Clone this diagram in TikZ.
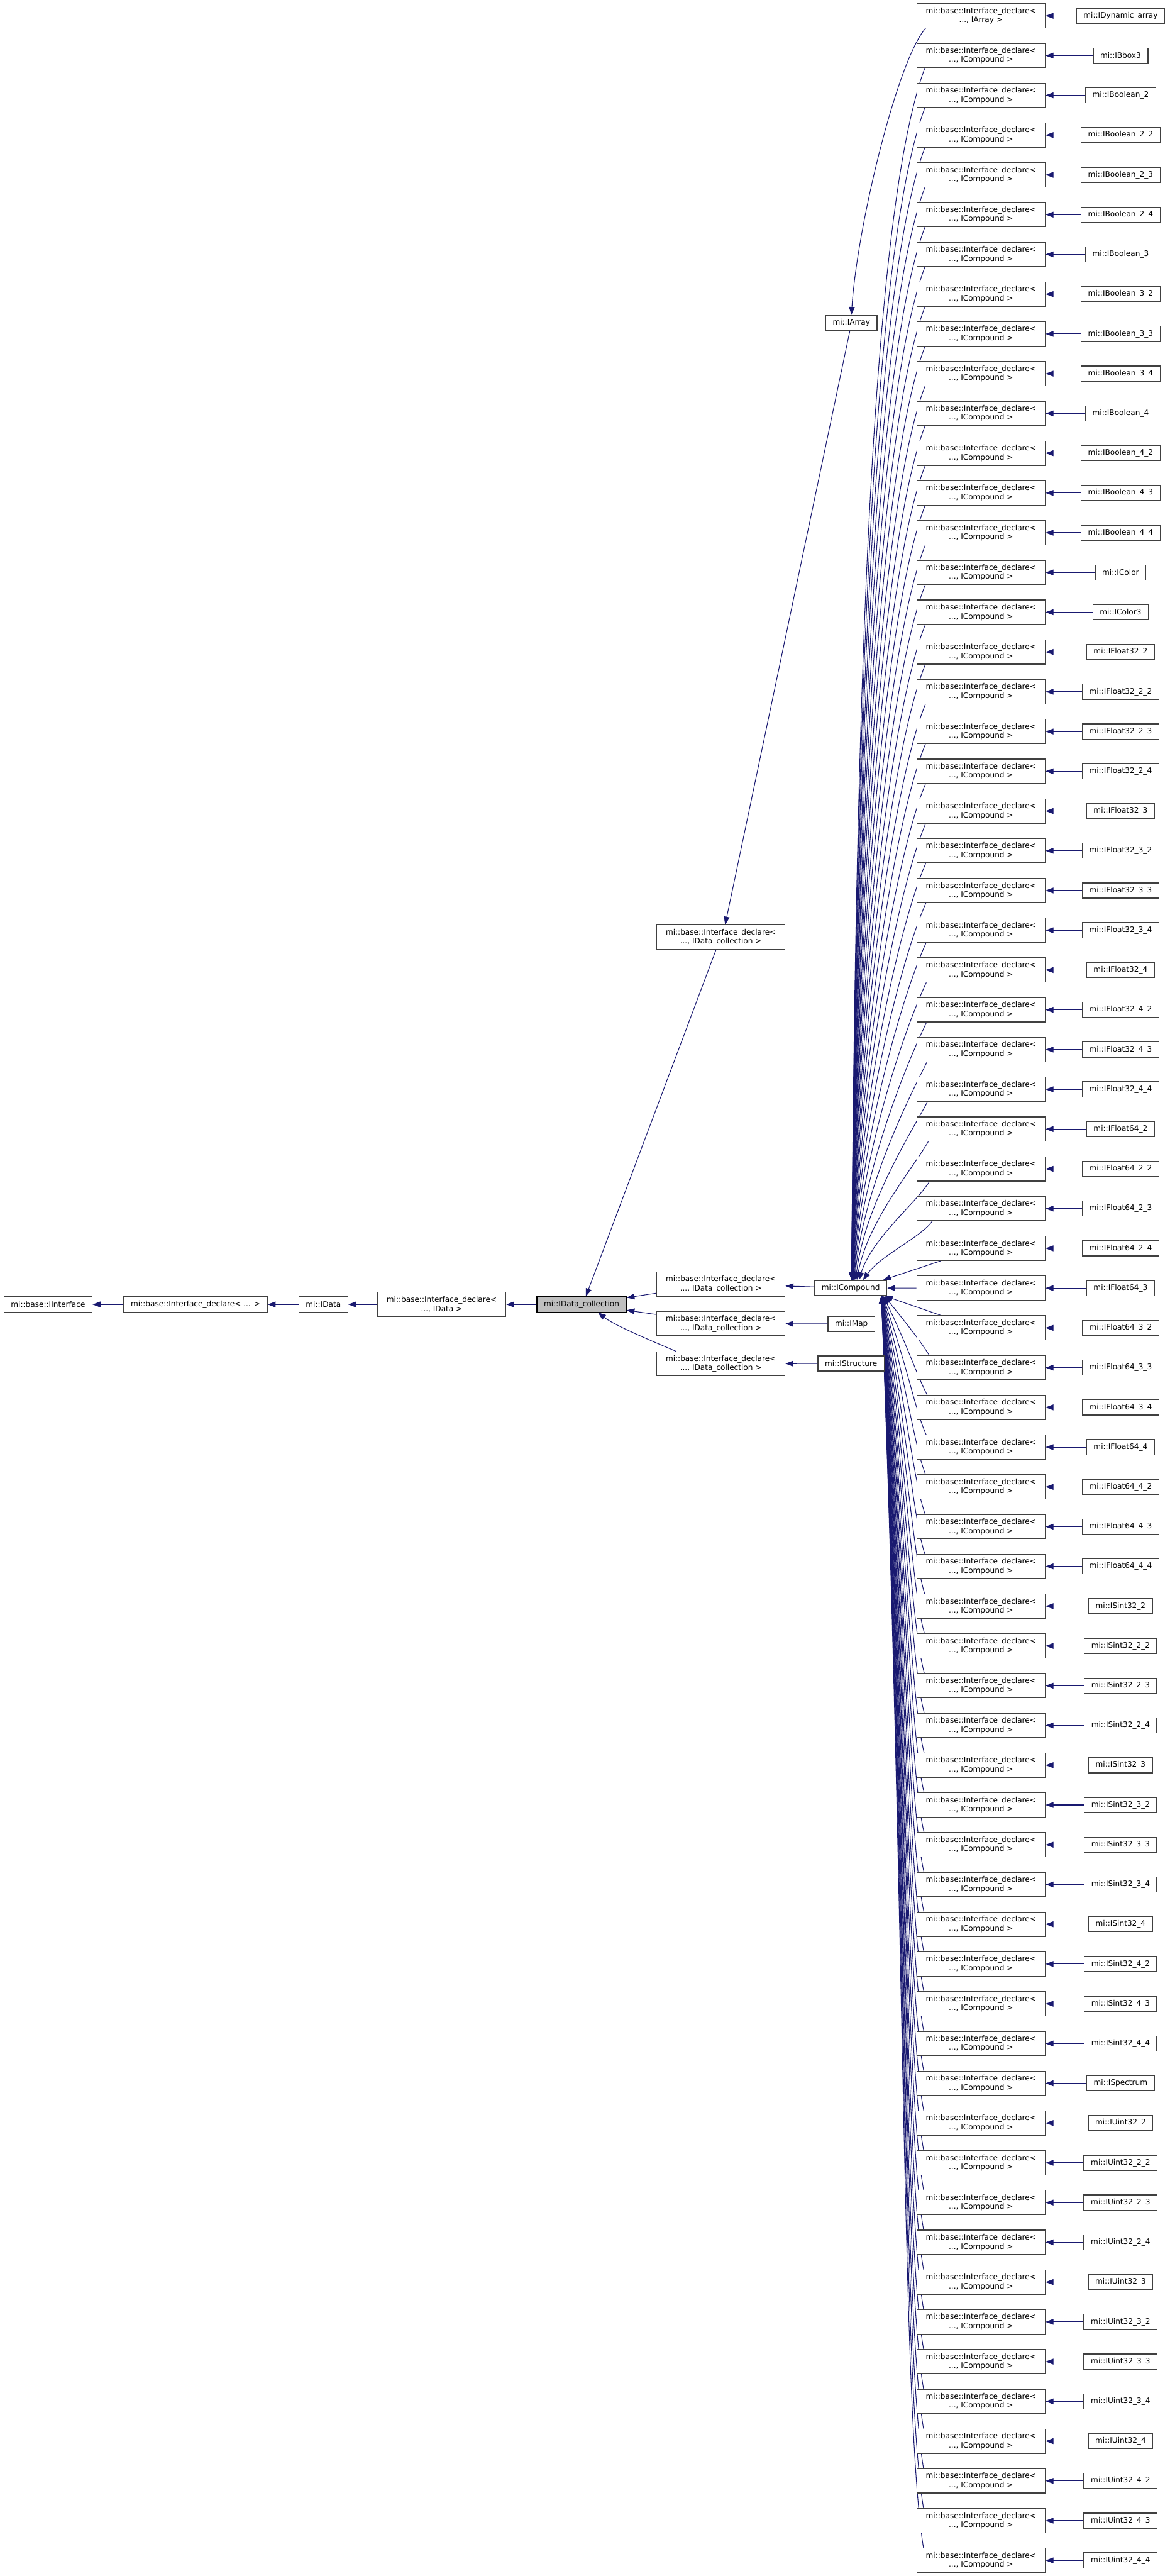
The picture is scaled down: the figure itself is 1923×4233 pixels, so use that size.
\documentclass[tikz,border=0pt]{standalone}
\usepackage{fontspec}
\setmainfont{DejaVu Sans}
\usetikzlibrary{arrows.meta,backgrounds}
\definecolor{linkblue}{HTML}{191970}
\definecolor{framegray}{HTML}{404040}
\definecolor{selgray}{HTML}{BFBFBF}
\begin{document}
\begin{tikzpicture}[x=1pt, y=-1pt,
		font=\fontsize{12.5}{15}\selectfont,
		box/.style={draw=framegray, line width=1.3pt, fill=white, inner xsep=11.5pt, inner ysep=0pt, minimum height=25pt},
		decl/.style={box, align=center, minimum width=211pt, minimum height=40pt, inner xsep=0pt},
		inherit/.style={linkblue, line width=1.1pt, -{Triangle[length=13pt, width=9.5pt]}}]
		\useasboundingbox (0,0) rectangle (1923,4233);
		% left chain
		\node[box] (iface) at (79,2143.5) {mi::base::IInterface};
		\node[box] (decl) at (321.5,2143.5) {mi::base::Interface\_declare< ... >};
		\node[box] (idata) at (531.5,2143.5) {mi::IData};
		\node[decl] (declData) at (726,2143.5) {mi::base::Interface\_declare<\\..., IData >};
		\node[box, fill=selgray, draw=black] (coll) at (956,2143.5) {mi::IData\_collection};
		\draw[inherit] (decl) -- (iface);
		\draw[inherit] (idata) -- (decl);
		\draw[inherit] (declData) -- (idata);
		\draw[inherit] (coll) -- (declData);
		% IData_collection declares
		\node[decl] (collArr) at (1185,1540) {mi::base::Interface\_declare<\\..., IData\_collection >};
		\node[decl] (collCmp) at (1185,2110) {mi::base::Interface\_declare<\\..., IData\_collection >};
		\node[decl] (collMap) at (1185,2175) {mi::base::Interface\_declare<\\..., IData\_collection >};
		\node[decl] (collStr) at (1185,2241) {mi::base::Interface\_declare<\\..., IData\_collection >};
		\draw[inherit] ([xshift=-8pt]collArr.south) -- ([xshift=7pt]coll.north);
		\draw[inherit] ([yshift=-15pt]collCmp.west) -- ([yshift=-2pt]coll.north east);
		\draw[inherit] ([yshift=15pt]collMap.west) -- ([yshift=-9.5pt]coll.east);
		\draw[inherit] ([xshift=-74pt]collStr.north) .. controls (1075,2205) and (1010,2178) .. ([xshift=27pt]coll.south);
		% third column
		\node[box] (iarray) at (1399.5,530.5) {mi::IArray};
		\node[box] (icomp) at (1398.5,2116.5) {mi::ICompound};
		\node[box] (imap) at (1399.5,2175.5) {mi::IMap};
		\node[box] (istruct) at (1399,2240.5) {mi::IStructure};
		\draw[inherit] ([xshift=-2.5pt]iarray.south) -- ([xshift=7pt]collArr.north);
		\draw[inherit] (icomp) -- (collCmp);
		\draw[inherit] (imap) -- (collMap);
		\draw[inherit] (istruct) -- (collStr);
		% row 1: IArray
		\node[decl] (d1) at (1612.5,26) {mi::base::Interface\_declare<\\..., IArray >};
		\node[box] (l1) at (1842,26) {mi::IDynamic\_array};
		\draw[inherit] (l1) -- (d1);
		\draw[inherit] ([xshift=15pt]d1.south west) .. controls +(-45,50) and +(10,-150) .. (iarray.north);
		% rows 2..65: ICompound
		\foreach \name [count=\i from 2] in {IBbox3,IBoolean\_2,IBoolean\_2\_2,IBoolean\_2\_3,IBoolean\_2\_4,
			IBoolean\_3,IBoolean\_3\_2,IBoolean\_3\_3,IBoolean\_3\_4,IBoolean\_4,IBoolean\_4\_2,IBoolean\_4\_3,IBoolean\_4\_4,
			IColor,IColor3,IFloat32\_2,IFloat32\_2\_2,IFloat32\_2\_3,IFloat32\_2\_4,IFloat32\_3,IFloat32\_3\_2,IFloat32\_3\_3,
			IFloat32\_3\_4,IFloat32\_4,IFloat32\_4\_2,IFloat32\_4\_3,IFloat32\_4\_4,IFloat64\_2,IFloat64\_2\_2,IFloat64\_2\_3,
			IFloat64\_2\_4,IFloat64\_3,IFloat64\_3\_2,IFloat64\_3\_3,IFloat64\_3\_4,IFloat64\_4,IFloat64\_4\_2,IFloat64\_4\_3,
			IFloat64\_4\_4,ISint32\_2,ISint32\_2\_2,ISint32\_2\_3,ISint32\_2\_4,ISint32\_3,ISint32\_3\_2,ISint32\_3\_3,
			ISint32\_3\_4,ISint32\_4,ISint32\_4\_2,ISint32\_4\_3,ISint32\_4\_4,ISpectrum,IUint32\_2,IUint32\_2\_2,
			IUint32\_2\_3,IUint32\_2\_4,IUint32\_3,IUint32\_3\_2,IUint32\_3\_3,IUint32\_3\_4,IUint32\_4,IUint32\_4\_2,
			IUint32\_4\_3,IUint32\_4\_4}{
			\pgfmathsetmacro{\yy}{26+(\i-1)*65.333}
			\node[decl] (d\i) at (1612.5,\yy) {mi::base::Interface\_declare<\\..., ICompound >};
			\node[box] (l\i) at (1842,\yy) {mi::\name};
			\draw[inherit] (l\i) -- (d\i);
		}
		\begin{scope}[on background layer]
			% upper curves into the top of ICompound
			\foreach \i in {2,...,31}{
				\pgfmathsetmacro{\k}{33-\i}
				\pgfmathsetmacro{\dy}{2104-(46+(\i-1)*65.333)}
				\pgfmathsetmacro{\sx}{13+26/\k}
				\pgfmathsetmacro{\ex}{40/\k}
				\pgfmathsetmacro{\ax}{-(15+0.04*\dy)}
				\pgfmathsetmacro{\ay}{15+0.12*\dy}
				\pgfmathsetmacro{\bx}{5+50/\k}
				\pgfmathsetmacro{\by}{-0.42*\dy}
				\draw[inherit] ([xshift=\sx pt]d\i.south west) .. controls +(\ax,\ay) and +(\bx,\by) .. ([xshift=\ex pt]icomp.north);
			}
			% the three rows next to ICompound
			\draw[inherit] ([xshift=40pt]d32.south west) -- ([xshift=-7pt]icomp.north east);
			\draw[inherit] (d33) -- (icomp);
			\draw[inherit] ([xshift=40pt]d34.north west) -- ([xshift=-4pt]icomp.south east);
			% lower curves into the bottom of ICompound
			\foreach \i in {35,...,65}{
				\pgfmathsetmacro{\k}{\i-33}
				\pgfmathsetmacro{\dy}{(6+(\i-1)*65.333)-2129}
				\pgfmathsetmacro{\sx}{11+20/\k}
				\pgfmathsetmacro{\ex}{50+10/\k}
				\pgfmathsetmacro{\ax}{-(15+0.01*\dy)}
				\pgfmathsetmacro{\ay}{-(15+0.1*\dy)}
				\pgfmathsetmacro{\by}{0.5*\dy}
				\draw[inherit] ([xshift=\sx pt]d\i.north west) .. controls +(\ax,\ay) and +(40,\by) .. ([xshift=\ex pt]icomp.south);
			}
		\end{scope}
	\end{tikzpicture}
\end{document}
